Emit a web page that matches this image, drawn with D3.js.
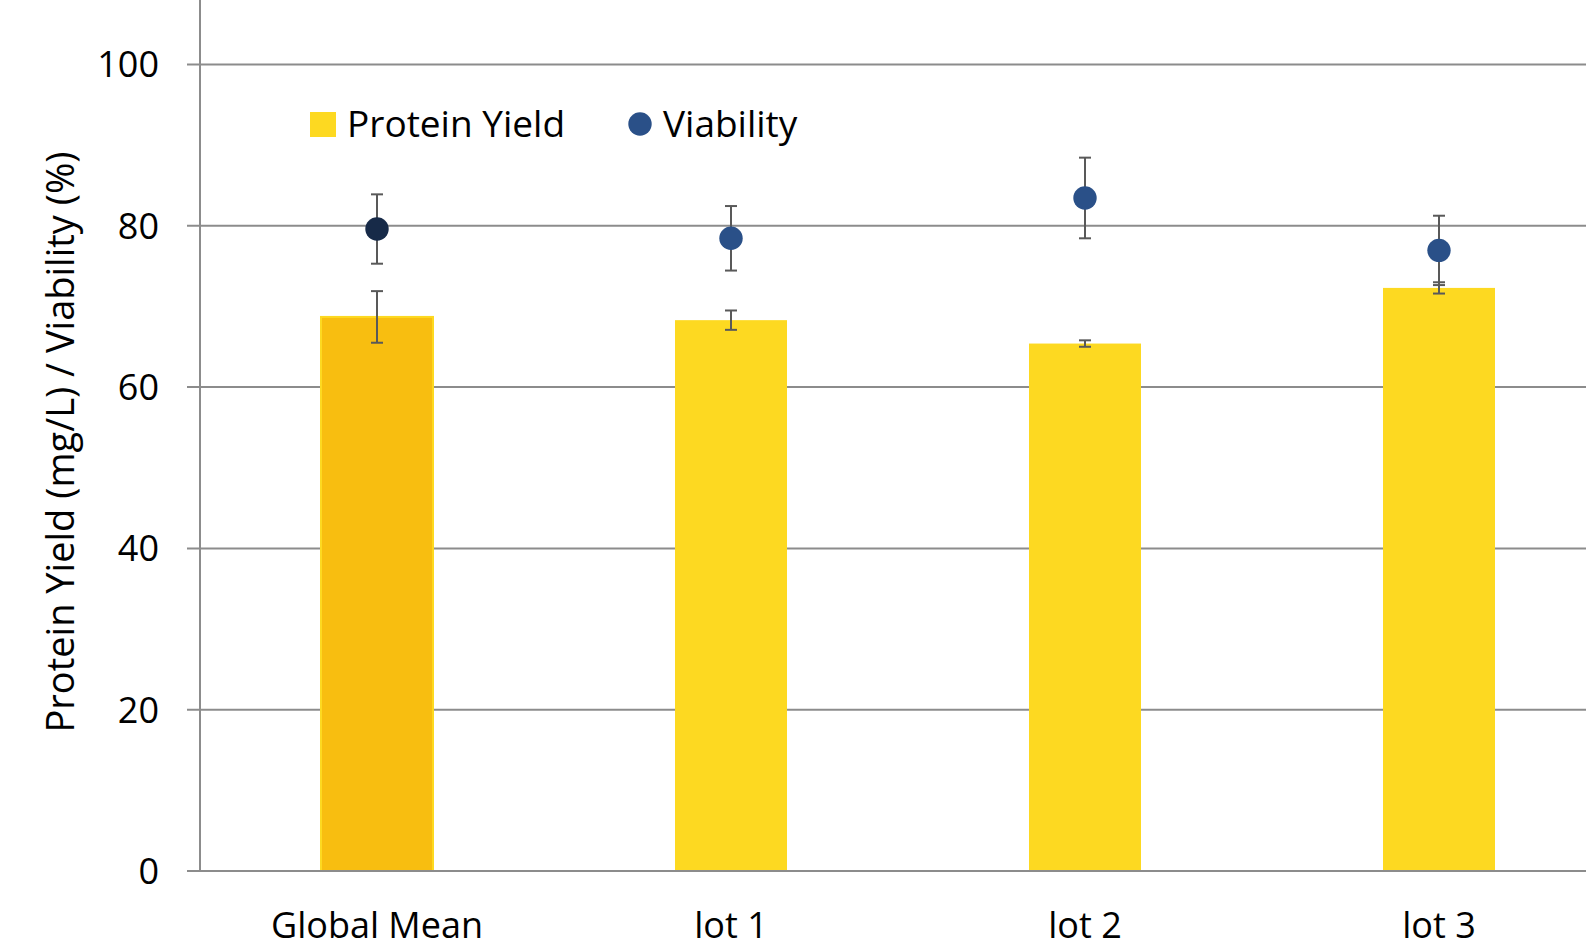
<!DOCTYPE html>
<html><head><meta charset="utf-8">
<script src="https://cdn.jsdelivr.net/npm/d3@7"></script>
<style>html,body{margin:0;padding:0;background:#fff;}svg{display:block;}</style>
</head><body>
<svg id="chart" width="1586" height="952"></svg>
<script>
const categories = ["Global Mean", "lot 1", "lot 2", "lot 3"];
const proteinYield = [68.7, 68.3, 65.4, 72.3];
const proteinErr = [3.2, 1.2, 0.4, 0.7];
const viability = [79.6, 78.45, 83.45, 76.95];
const viabilityErr = [4.3, 4.0, 5.0, 4.3];
const yTicks = [0, 20, 40, 60, 80, 100];
const seriesNames = ["Protein Yield", "Viability"];
const yLabel = "Protein Yield (mg/L) / Viability (%)";

const svg = d3.select("#chart");
const font = "'Open Sans', sans-serif";
const left = 200, bandW = 354;
const x = d3.scaleBand().domain(categories).range([left, left + bandW * categories.length]).paddingInner(0).paddingOuter(0);
const y = d3.scaleLinear().domain([0, 100]).range([871, 64.5]);

// gridlines
svg.append("g").selectAll("line").data(yTicks).join("line")
  .attr("x1", 187).attr("x2", 1586)
  .attr("y1", d => y(d)).attr("y2", d => y(d))
  .attr("stroke", "#8c8c8c").attr("stroke-width", 2);
// y axis line
svg.append("line").attr("x1", left).attr("x2", left).attr("y1", 0).attr("y2", y(0))
  .attr("stroke", "#8c8c8c").attr("stroke-width", 2);

// y tick labels
svg.append("g").selectAll("text").data(yTicks).join("text")
  .attr("x", 159).attr("y", d => y(d)).attr("dy", "0.36em")
  .attr("text-anchor", "end").attr("font-family", font).attr("font-size", 36).attr("fill", "#000")
  .text(d => d);

// bars
const bw = 112;
const barColor = (d, i) => i === 0 ? "#F8BE10" : "#FDD921";
svg.append("g").selectAll("rect").data(categories).join("rect")
  .attr("x", d => x(d) + x.bandwidth() / 2 - bw / 2)
  .attr("width", bw)
  .attr("y", (d, i) => y(proteinYield[i]))
  .attr("height", (d, i) => y(0) - y(proteinYield[i]))
  .attr("fill", barColor)
  .attr("stroke", (d, i) => i === 0 ? "#FDD921" : "none").attr("stroke-width", 2);

// redraw baseline over bars
svg.append("line").attr("x1", 187).attr("x2", 1586).attr("y1", y(0)).attr("y2", y(0))
  .attr("stroke", "#8c8c8c").attr("stroke-width", 2);

function errorBars(vals, errs) {
  const g = svg.append("g").attr("stroke", "#595959").attr("stroke-width", 2);
  categories.forEach((c, i) => {
    const cx = x(c) + x.bandwidth() / 2;
    const t = y(vals[i] + errs[i]), b = y(vals[i] - errs[i]);
    g.append("line").attr("x1", cx).attr("x2", cx).attr("y1", t).attr("y2", b);
    g.append("line").attr("x1", cx - 6).attr("x2", cx + 6).attr("y1", t).attr("y2", t);
    g.append("line").attr("x1", cx - 6).attr("x2", cx + 6).attr("y1", b).attr("y2", b);
  });
}
errorBars(proteinYield, proteinErr);
errorBars(viability, viabilityErr);

// dots
svg.append("g").selectAll("circle").data(categories).join("circle")
  .attr("cx", d => x(d) + x.bandwidth() / 2)
  .attr("cy", (d, i) => y(viability[i]))
  .attr("r", 11.7)
  .attr("fill", (d, i) => i === 0 ? "#172A48" : "#2A5088");

// x labels
svg.append("g").selectAll("text").data(categories).join("text")
  .attr("x", d => x(d) + x.bandwidth() / 2).attr("y", 938)
  .attr("text-anchor", "middle").attr("font-family", font).attr("font-size", 36).attr("fill", "#000")
  .text(d => d);

// y label
svg.append("text").attr("transform", "translate(74,442) rotate(-90)")
  .attr("text-anchor", "middle").attr("font-family", font).attr("font-size", 38).attr("fill", "#000")
  .text(yLabel);

// legend
const lg = svg.append("g");
lg.append("rect").attr("x", 310).attr("y", 112).attr("width", 26).attr("height", 25).attr("fill", "#FDD921");
lg.append("text").attr("x", 347).attr("y", 137).attr("font-family", font).attr("font-size", 37).text(seriesNames[0]);
lg.append("circle").attr("cx", 640).attr("cy", 124).attr("r", 11.7).attr("fill", "#2A5088");
lg.append("text").attr("x", 663).attr("y", 137).attr("font-family", font).attr("font-size", 37).text(seriesNames[1]);
</script>
</body></html>
